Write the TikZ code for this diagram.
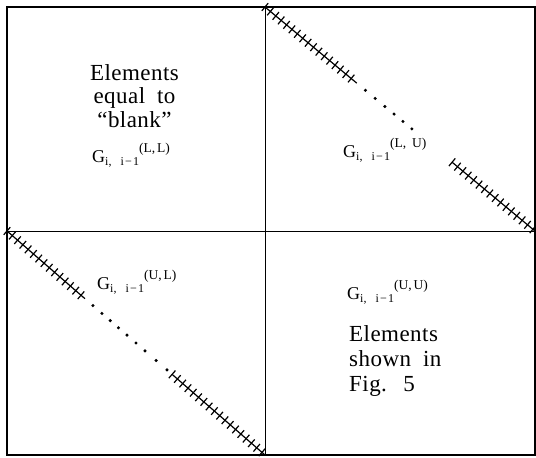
\documentclass[tikz,border=0pt]{standalone}
\usepackage{fontspec}
\setmainfont{Liberation Serif}
\usetikzlibrary{decorations.markings,calc}
\newcommand\Glab[1]{{\fontsize{18}{18}\selectfont G}\raisebox{-3pt}{\fontsize{12}{12}\selectfont i,\hspace{0.75em}i\hspace{0.1em}−\hspace{0.1em}1}\raisebox{9.5pt}{\fontsize{13.5}{13.5}\selectfont (#1)}}
\begin{document}
\begin{tikzpicture}[x=1pt,y=-1pt,
  frame/.style={line width=1.4pt},
  divider/.style={line width=1pt},
  ticked/.style={line width=1.2pt, postaction={decorate},
    decoration={markings, mark=between positions 0 and 1 step 7pt with {\draw[line width=1.2pt] (0pt,-5pt)--(0pt,5pt);}}},
  txt/.style={font=\fontsize{23}{23}\selectfont\addfontfeature{LetterSpace=2}, inner sep=0pt, anchor=base},
  ltxt/.style={font=\fontsize{23}{23}\selectfont\addfontfeature{LetterSpace=2}, inner sep=0pt, anchor=base west},
  glab/.style={inner sep=0pt, anchor=base west}]
\useasboundingbox (0,0) rectangle (536,458);
% frame and dividers
\coordinate (tl) at (7,7);
\coordinate (br) at (535,455);
\coordinate (mt) at (265,7);
\coordinate (mb) at (265,455);
\coordinate (ml) at (7,231);
\coordinate (mr) at (535,231);
\coordinate (c) at (265,231);
\draw[frame] (tl) rectangle (br);
\draw[divider] (mt) -- (mb);
\draw[divider] (ml) -- (mr);
% top-right diagonal
\draw[ticked] (mt) -- ($(mt)!0.34!(mr)$);
\draw[ticked] ($(mt)!0.693!(mr)$) -- (mr);
\foreach \t in {0.372,0.408,0.444,0.478,0.511,0.544}
  \fill ($(mt)!\t!(mr)$) circle (1.7pt);
% bottom-left diagonal
\draw[ticked] (ml) -- ($(ml)!0.302!(mb)$);
\draw[ticked] ($(ml)!0.64!(mb)$) -- (mb);
\foreach \t in {0.333,0.368,0.4,0.432,0.465,0.5,0.535,0.578,0.62}
  \fill ($(ml)!\t!(mb)$) circle (1.7pt);
% top-left texts
\node[txt] (tl1) at (134.5,80) {Elements};
\node[txt] (tl2) at (134.5,103.5) {equal\hspace{0.25em} to};
\node[txt] (tl3) at (134.5,127) {“blank”};
\node[glab] (gll) at (92,162) {\Glab{L,\hspace{0.15em}L}};
% top-right label
\node[glab] (glu) at (343,157) {\Glab{L,\hspace{0.45em}U}};
% bottom-left label
\node[glab] (gul) at (97,289) {\Glab{U,\hspace{0.15em}L}};
% bottom-right texts
\node[glab] (guu) at (347,299) {\Glab{U,\hspace{0.15em}U}};
\node[ltxt] (br1) at (349,341) {Elements};
\node[ltxt] (br2) at (349,366) {shown\hspace{0.25em} in};
\node[ltxt] (br3) at (349,391) {Fig.\hspace{0.35em} 5};
\end{tikzpicture}
\end{document}
